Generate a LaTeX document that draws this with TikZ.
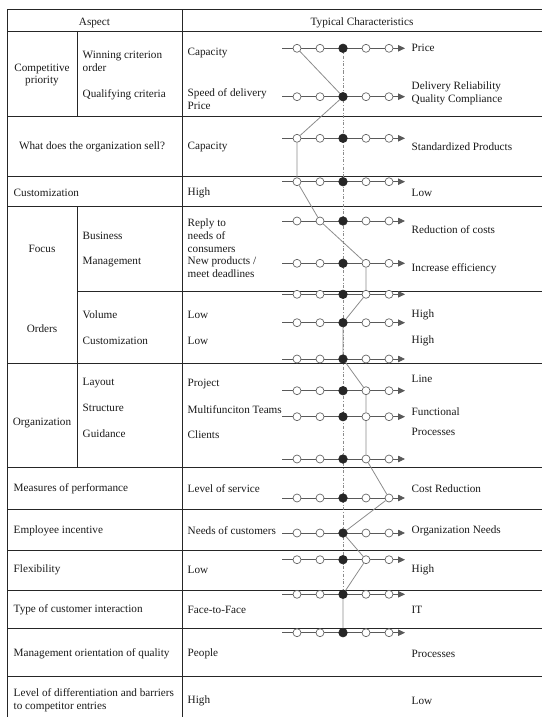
\documentclass[tikz,border=0pt]{standalone}
\usepackage{fontspec}
\setmainfont{Liberation Serif}
\usetikzlibrary{arrows.meta}
\tikzset{
  rule/.style={line width=0.8pt, black!85},
  txt/.style={anchor=west, inner sep=0pt, align=left, text=black!90, font=\fontsize{11.2}{12.8}\selectfont},
  ctxt/.style={txt, anchor=center, align=center},
  rowline/.style={draw=black!65, line width=0.8pt, -{Triangle[length=7pt,width=6.5pt]}},
  hollow/.style={circle, draw=black!60, fill=white, line width=0.7pt, minimum size=8pt, inner sep=0pt},
  picked/.style={circle, draw=black!85, fill=black!85, line width=0.7pt, minimum size=8.5pt, inner sep=0pt},
  zigzag/.style={draw=black!45, line width=0.8pt},
  axis/.style={draw=black!45, dash dot, line width=0.7pt}
}
\def\rowys{48.3,96.7,138.3,181.7,221,263.3,294.3,322.7,359,390.7,416.7,459,498,533,559.7,594.3,632.7}
\begin{document}
\begin{tikzpicture}[x=1pt,y=-1pt]
\useasboundingbox (0,0) rectangle (542,717);
% table rules
\foreach \y in {9.3,31,116,176.7,206.7,363.3,467.7,509.3,550.3,590.3,628.7,676.3}
  \draw[rule] (7.3,\y) -- (542,\y);
\draw[rule] (77,291) -- (542,291);
\draw[rule] (7.3,9.3) -- (7.3,717);
\draw[rule] (182,9.3) -- (182,717);
\draw[rule] (77,31) -- (77,116) (77,206.7) -- (77,467.7);
% header
\node[ctxt] (aspect) at (94.5,23) {Aspect};
\node[ctxt] (typical) at (362,23) {Typical Characteristics};
% aspect column
\node[ctxt] (cpL) at (42,75) {Competitive\\priority};
\node[txt] (win) at (82.5,61.7) {Winning criterion\\order};
\node[txt] (qual) at (82.5,94.3) {Qualifying criteria};
\node[ctxt] (whatL) at (92,146.6) {What does the organization sell?};
\node[txt] (custL) at (13.5,192.4) {Customization};
\node[ctxt] (focusL) at (42,249) {Focus};
\node[txt] (bus) at (82.5,235.6) {Business};
\node[txt] (mgmt) at (82.5,261.8) {Management};
\node[ctxt] (ordersL) at (42,328.8) {Orders};
\node[txt] (vol) at (82.5,315) {Volume};
\node[txt] (cust) at (82.5,340.5) {Customization};
\node[ctxt] (orgL) at (42,422.6) {Organization};
\node[txt] (layout) at (82.5,382.6) {Layout};
\node[txt] (struct) at (82.5,408.3) {Structure};
\node[txt] (guide) at (82.5,434) {Guidance};
\node[txt] (measL) at (13.5,488.3) {Measures of performance};
\node[txt] (empL) at (13.5,531) {Employee incentive};
\node[txt] (flexL) at (13.5,569.8) {Flexibility};
\node[txt] (typeL) at (13.5,610.2) {Type of customer interaction};
\node[txt] (qualityL) at (13.5,654) {Management orientation of quality};
\node[txt] (diffL) at (13.5,700) {Level of differentiation and barriers\\to competitor entries};
% left characteristics
\node[txt] (capA) at (187.5,52.6) {Capacity};
\node[txt] (speed) at (187.5,99) {Speed of delivery\\Price};
\node[txt] (capB) at (187.5,146.6) {Capacity};
\node[txt] (highA) at (187.5,192.4) {High};
\node[txt] (reply) at (187.5,248.3) {Reply to\\needs of\\consumers\\New products /\\meet deadlines};
\node[txt] (lowA) at (187.5,315) {Low};
\node[txt] (lowB) at (187.5,340.5) {Low};
\node[txt] (project) at (187.5,384) {Project};
\node[txt] (teams) at (187.5,410) {Multifunciton Teams};
\node[txt] (clients) at (187.5,435) {Clients};
\node[txt] (service) at (187.5,488.3) {Level of service};
\node[txt] (needs) at (187.5,531) {Needs of customers};
\node[txt] (lowC) at (187.5,569.8) {Low};
\node[txt] (face) at (187.5,610.2) {Face-to-Face};
\node[txt] (people) at (187.5,654) {People};
\node[txt] (highB) at (187.5,700.5) {High};
% right characteristics
\node[txt] (price) at (411.5,48.3) {Price};
\node[txt] (deliv) at (411.5,93.3) {Delivery Reliability\\Quality Compliance};
\node[txt] (std) at (411.5,146.6) {Standardized Products};
\node[txt] (lowD) at (411.5,192.4) {Low};
\node[txt] (costs) at (411.5,230) {Reduction of costs};
\node[txt] (effic) at (411.5,268.5) {Increase efficiency};
\node[txt] (highC) at (411.5,314.4) {High};
\node[txt] (highD) at (411.5,340.5) {High};
\node[txt] (line) at (411.5,378.5) {Line};
\node[txt] (funct) at (411.5,412) {Functional};
\node[txt] (procA) at (411.5,431.5) {Processes};
\node[txt] (costred) at (411.5,488.3) {Cost Reduction};
\node[txt] (orgneeds) at (411.5,531) {Organization Needs};
\node[txt] (highE) at (411.5,569.8) {High};
\node[txt] (it) at (411.5,610.2) {IT};
\node[txt] (procB) at (411.5,654) {Processes};
\node[txt] (lowE) at (411.5,700.5) {Low};
% scales
\foreach \y [count=\r] in \rowys {
  \coordinate (r\r-s) at (282,\y);
  \coordinate (r\r-e) at (405,\y);
  \coordinate (r\r-m) at (343,\y);
  \draw[rowline] (r\r-s) -- (r\r-e);
}
\draw[axis] (r1-m) -- (r16-m);
\foreach \y [count=\r] in \rowys {
  \foreach \c in {1,2,4,5}
    \node[hollow] (r\r-c\c) at ({274+23*\c},\y) {};
  \node[picked] (r\r-c3) at (r\r-m) {};
}
% profile
\draw[zigzag] (r1-c1) -- (r2-c3) -- (r3-c1) -- (r4-c1) -- (r5-c2) -- (r6-c4) -- (r7-c4)
  -- (r8-c3) -- (r9-c3) -- (r10-c4) -- (r11-c4) -- (r12-c4) -- (r13-c5) -- (r14-c3)
  -- (r15-c4) -- (r16-c3) -- (r17-c3);
\end{tikzpicture}
\end{document}
